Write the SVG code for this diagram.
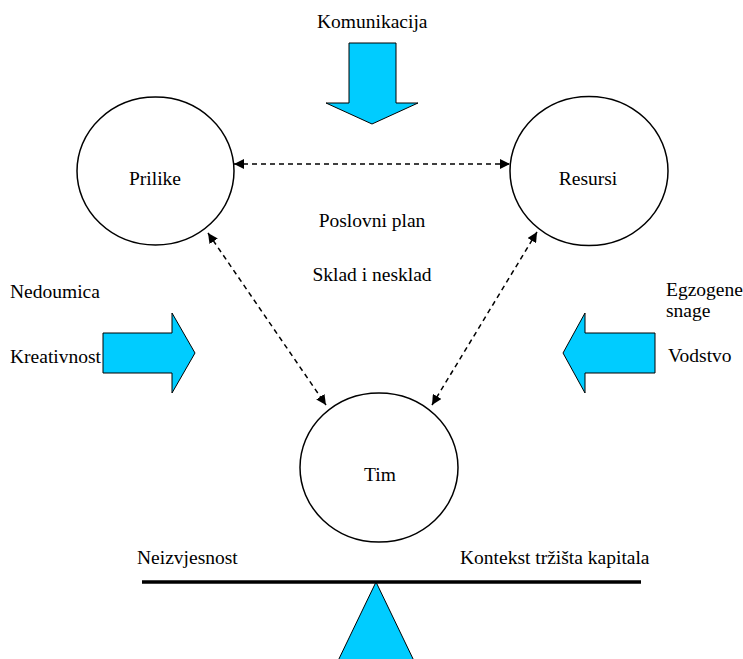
<svg xmlns="http://www.w3.org/2000/svg" width="743" height="659" viewBox="0 0 743 659" font-family="'Liberation Serif', 'Times New Roman', Tinos, 'DejaVu Serif', serif">
<style>
text{font-family:'Liberation Serif','Times New Roman',Tinos,'DejaVu Serif',serif;font-size:19.5px;fill:#000}
.mid{text-anchor:middle}
.node{fill:#fff;stroke:#000;stroke-width:1.5}
.big{fill:#00CCFF;stroke:#000;stroke-width:1}
.dash{fill:none;stroke:#000;stroke-width:1.5;stroke-dasharray:5,4}
</style>
<defs>
<marker id="ah" viewBox="0 0 10 10" refX="10" refY="5" markerWidth="10" markerHeight="10" markerUnits="userSpaceOnUse" orient="auto-start-reverse">
<path d="M0,0 L10,5 L0,10 Z" fill="#000"/>
</marker>
</defs>
<rect width="743" height="659" fill="#fff"/>
<g id="connectors">
<line class="dash" x1="234" y1="164" x2="510" y2="164" marker-start="url(#ah)" marker-end="url(#ah)"/>
<line class="dash" x1="208" y1="233" x2="326" y2="405" marker-start="url(#ah)" marker-end="url(#ah)"/>
<line class="dash" x1="537" y1="232" x2="432" y2="405" marker-start="url(#ah)" marker-end="url(#ah)"/>
</g>
<g id="prilike">
<ellipse class="node" cx="155.5" cy="171" rx="78.5" ry="74"/>
<text class="mid" x="155" y="185">Prilike</text>
</g>
<g id="resursi">
<ellipse class="node" cx="589" cy="171" rx="79" ry="74.5"/>
<text class="mid" x="588" y="185">Resursi</text>
</g>
<g id="tim">
<ellipse class="node" cx="379" cy="467.5" rx="79" ry="74.5"/>
<text class="mid" x="380" y="481">Tim</text>
</g>
<g id="komunikacija">
<text x="317" y="28">Komunikacija</text>
<polygon class="big" points="349,43 396,43 396,103 418,103 372,124 326,103 349,103"/>
</g>
<g id="center-labels">
<text class="mid" x="372" y="227">Poslovni plan</text>
<text class="mid" x="372" y="281">Sklad i nesklad</text>
</g>
<g id="left">
<text x="10" y="298">Nedoumica</text>
<polygon class="big" points="103,333 172,333 172,313 195,353 172,393 172,373 103,373"/>
<text x="10" y="363">Kreativnost</text>
</g>
<g id="right">
<polygon class="big" points="655,333 585,333 585,313 563,353 585,393 585,373 655,373"/>
<text x="666" y="296">Egzogene</text>
<text x="666" y="317">snage</text>
<text x="668" y="362">Vodstvo</text>
</g>
<g id="balance">
<text x="137" y="564">Neizvjesnost</text>
<text x="460" y="564">Kontekst tržišta kapitala</text>
<polygon class="big" points="376,582 416,665 336,665"/>
<line x1="142" y1="582" x2="641" y2="582" stroke="#000" stroke-width="3.5"/>
</g>
</svg>
